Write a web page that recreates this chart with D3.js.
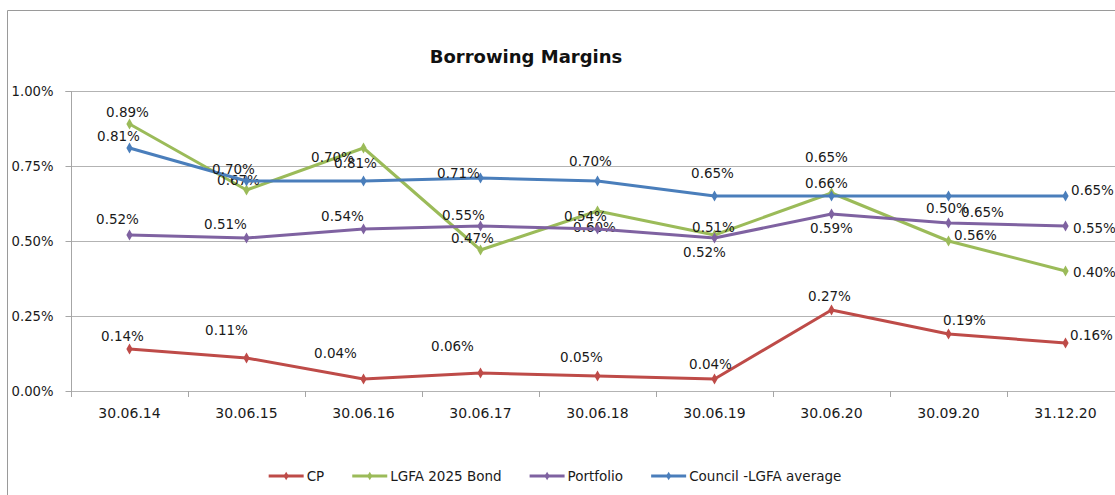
<!DOCTYPE html>
<html>
<head>
<meta charset="utf-8">
<script src="https://cdn.jsdelivr.net/npm/d3@7"></script>
<style>
  html, body { margin: 0; padding: 0; background: #fff; }
  svg { display: block; font-family: "DejaVu Sans", Verdana, sans-serif; }
</style>
</head>
<body>
<svg id="chart" width="1115" height="495"></svg>
<script>
// Reporting dates along the x axis
const categories = ["30.06.14", "30.06.15", "30.06.16", "30.06.17", "30.06.18",
                    "30.06.19", "30.06.20", "30.09.20", "31.12.20"];

// Margins in percent
const cpValues        = [0.14, 0.11, 0.04, 0.06, 0.05, 0.04, 0.27, 0.19, 0.16];
const lgfaBondValues  = [0.89, 0.67, 0.81, 0.47, 0.60, 0.52, 0.66, 0.50, 0.40];
const portfolioValues = [0.52, 0.51, 0.54, 0.55, 0.54, 0.51, 0.59, 0.56, 0.55];
const councilValues   = [0.81, 0.70, 0.70, 0.71, 0.70, 0.65, 0.65, 0.65, 0.65];

const seriesNames = ["CP", "LGFA 2025 Bond", "Portfolio", "Council -LGFA average"];
const yTicks = [0, 0.25, 0.5, 0.75, 1.0];

// Hand-placed data label offsets (dx, dy from each point), kept apart from the data
const labelOffsets = {
  "CP": [[-7,-13],[-20,-28],[-28,-26],[-28,-27],[-16,-19],[-4,-15],[-2,-14],[16,-14],[26,-8]],
  "LGFA 2025 Bond": [[-2,-12],[-8,-10],[-8,15],[-8,-12],[-3,16],[-10,17],[-5,-10],[-1,-33],[29,1]],
  "Portfolio": [[-12,-16],[-21,-14],[-21,-13],[-17,-11],[-12,-13],[-1,-11],[0,14],[27,12],[29,2]],
  "Council -LGFA average": [[-11,-12],[-13,-12],[-31,-24],[-22,-5],[-7,-20],[-2,-23],[-5,-39],[34,16],[27,-6]]
};

const series = [
  { name: seriesNames[0], values: cpValues,        color: "#BE4B48" },
  { name: seriesNames[1], values: lgfaBondValues,  color: "#9BBB59" },
  { name: seriesNames[2], values: portfolioValues, color: "#7F62A1" },
  { name: seriesNames[3], values: councilValues,   color: "#4A7EBB" }
];

const svg = d3.select("#chart");
const W = 1115, H = 495;
const plot = { left: 71, right: 1124, top: 91, bottom: 391 };

// Outer chart frame
svg.append("path")
  .attr("d", `M7.5,${H} V10.5 H${W}`)
  .attr("fill", "none").attr("stroke", "#9a9a9a").attr("stroke-width", 1);

// Title
svg.append("text")
  .attr("x", 526).attr("y", 63)
  .attr("text-anchor", "middle")
  .attr("font-weight", "bold").attr("font-size", 18)
  .attr("fill", "#111")
  .text("Borrowing Margins");

const x = d3.scalePoint().domain(categories).range([plot.left, plot.right]).padding(0.5);
const y = d3.scaleLinear().domain([0, 1]).range([plot.bottom, plot.top]);
const step = x.step();

// Horizontal gridlines
svg.append("g").selectAll("line").data(yTicks).join("line")
  .attr("x1", plot.left).attr("x2", plot.right)
  .attr("y1", d => Math.round(y(d)) + 0.5).attr("y2", d => Math.round(y(d)) + 0.5)
  .attr("stroke", "#b3b3b3").attr("stroke-width", 1.2);

// Y axis
const yAxis = svg.append("g")
  .attr("transform", `translate(${plot.left + 0.5},0)`)
  .call(d3.axisLeft(y).tickValues(yTicks).tickSize(6).tickPadding(12)
        .tickFormat(d => d3.format(".2f")(d) + "%"));
yAxis.select(".domain").attr("stroke", "#a6a6a6").attr("d", `M-6,${plot.top + 0.5}H0V${plot.bottom + 0.5}`);
yAxis.selectAll(".tick line").attr("stroke", "#a6a6a6");
yAxis.selectAll(".tick text")
  .attr("font-family", "DejaVu Sans, sans-serif").attr("font-size", 13.2).attr("fill", "#1a1a1a");

// X axis: tick marks sit on category boundaries, labels on category centres
const xg = svg.append("g");
const boundaries = d3.range(categories.length + 1).map(i => plot.left + i * step);
xg.selectAll("line.tk").data(boundaries).join("line")
  .attr("class", "tk")
  .attr("x1", d => Math.round(d) + 0.5).attr("x2", d => Math.round(d) + 0.5)
  .attr("y1", plot.bottom).attr("y2", plot.bottom + 6)
  .attr("stroke", "#a6a6a6");
xg.selectAll("text").data(categories).join("text")
  .attr("x", d => x(d)).attr("y", 418)
  .attr("text-anchor", "middle")
  .attr("font-size", 14).attr("fill", "#1a1a1a")
  .text(d => d);

// Lines, markers and value labels
const line = d3.line().x((d, i) => x(categories[i])).y(d => y(d));
const diamond = d3.symbol().type(d3.symbolDiamond).size(34);

series.forEach(s => {
  const g = svg.append("g");
  g.append("path")
    .attr("d", line(s.values))
    .attr("fill", "none").attr("stroke", s.color)
    .attr("stroke-width", 3).attr("stroke-linejoin", "round");
  g.selectAll("path.m").data(s.values).join("path")
    .attr("class", "m")
    .attr("transform", (d, i) => `translate(${x(categories[i])},${y(d)})`)
    .attr("d", diamond)
    .attr("fill", s.color);
  const offs = labelOffsets[s.name];
  g.selectAll("text").data(s.values).join("text")
    .attr("x", (d, i) => x(categories[i]) + offs[i][0])
    .attr("y", (d, i) => y(d) + offs[i][1])
    .attr("dy", "0.36em")
    .attr("text-anchor", "middle")
    .attr("font-size", 13.5).attr("fill", "#1a1a1a")
    .text(d => d3.format(".2f")(d) + "%");
});

// Legend
const legend = svg.append("g");
const legendY = 476;
const swatch = 35, gapText = 3, gapItem = 28;
const items = series.map(s => {
  const it = legend.append("g");
  it.append("line").attr("x1", 0).attr("x2", swatch)
    .attr("y1", legendY).attr("y2", legendY)
    .attr("stroke", s.color).attr("stroke-width", 3);
  it.append("path")
    .attr("transform", `translate(${swatch / 2},${legendY})`)
    .attr("d", d3.symbol().type(d3.symbolDiamond).size(22))
    .attr("fill", s.color);
  const t = it.append("text")
    .attr("x", swatch + gapText).attr("y", legendY).attr("dy", "0.36em")
    .attr("font-size", 13.5).attr("fill", "#1a1a1a")
    .text(s.name);
  return { g: it, w: swatch + gapText + t.node().getComputedTextLength() };
});
const total = d3.sum(items, d => d.w) + gapItem * (items.length - 1);
let lx = 555 - total / 2;
items.forEach(d => { d.g.attr("transform", `translate(${lx},0)`); lx += d.w + gapItem; });
</script>
</body>
</html>
